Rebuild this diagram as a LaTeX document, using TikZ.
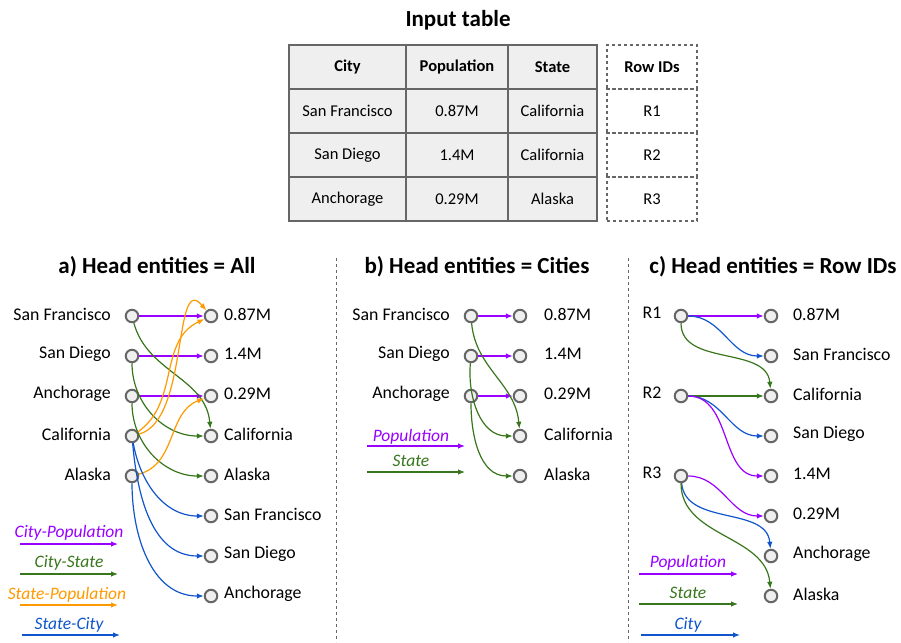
\documentclass[tikz,border=0pt]{standalone}
\usepackage{fontspec}
\setmainfont{Carlito}
\usetikzlibrary{arrows.meta}
\definecolor{pu}{RGB}{153, 0, 255}
\definecolor{gn}{RGB}{56, 118, 29}
\definecolor{og}{RGB}{255, 153, 0}
\definecolor{bl}{RGB}{17, 85, 204}
\definecolor{gr}{RGB}{102, 102, 102}
\definecolor{lg}{RGB}{239, 239, 239}

\begin{document}
\begin{tikzpicture}[x=1pt, y=1pt,
        dot/.style={circle, draw=gr, fill=lg, line width=2pt, minimum size=12.5pt, inner sep=0pt},
        lbl/.style={font=\fontsize{17.8}{20}\selectfont, inner sep=0pt},
        ttl/.style={font=\bfseries\fontsize{23}{26}\selectfont, inner sep=0pt},
        cell/.style={draw=gr, fill=lg, line width=1.2pt, minimum height=44pt, inner sep=0pt, font=\fontsize{16.5}{19}\selectfont},
        idcell/.style={draw=gr, dashed, line width=1.2pt, minimum width=90pt, minimum height=44pt, inner sep=0pt, font=\fontsize{16.5}{19}\selectfont},
        rel/.style={line width=1.2pt, -{Latex[length=7pt, width=5.5pt]}},
        leg/.style={font=\itshape\fontsize{17.5}{20}\selectfont, inner sep=0pt},
        divider/.style={draw=gr, dashed, line width=1pt}]
        \useasboundingbox (0,0) rectangle (901,-642);

        % input table
        \node[ttl] (tin) at (458,-20) {Input table};
        \node[cell, minimum width=117pt, font=\bfseries\fontsize{16.5}{19}\selectfont] (hcity) at (347.5,-67) {City};
        \node[cell, minimum width=102pt, font=\bfseries\fontsize{16.5}{19}\selectfont] (hpop) at (457,-67) {Population};
        \node[cell, minimum width=89pt, font=\bfseries\fontsize{16.5}{19}\selectfont] (hstate) at (552.5,-67) {State};
        \node[cell, minimum width=117pt] (c11) at (347.5,-111) {San Francisco};
        \node[cell, minimum width=102pt] (c12) at (457,-111) {0.87M};
        \node[cell, minimum width=89pt] (c13) at (552.5,-111) {California};
        \node[cell, minimum width=117pt] (c21) at (347.5,-155) {San Diego};
        \node[cell, minimum width=102pt] (c22) at (457,-155) {1.4M};
        \node[cell, minimum width=89pt] (c23) at (552.5,-155) {California};
        \node[cell, minimum width=117pt] (c31) at (347.5,-199) {Anchorage};
        \node[cell, minimum width=102pt] (c32) at (457,-199) {0.29M};
        \node[cell, minimum width=89pt] (c33) at (552.5,-199) {Alaska};
        \node[idcell, font=\bfseries\fontsize{16.5}{19}\selectfont] (hid) at (652,-67) {Row IDs};
        \node[idcell] (id1) at (652,-111) {R1};
        \node[idcell] (id2) at (652,-155) {R2};
        \node[idcell] (id3) at (652,-199) {R3};

        % dividers
        \coordinate (d1t) at (336,-258);
        \coordinate (d1b) at (336,-642);
        \coordinate (d2t) at (628,-258);
        \coordinate (d2b) at (628,-642);
        \draw[divider] (d1t) -- (d1b);
        \draw[divider] (d2t) -- (d2b);

        % a) head entities = all
        \node[ttl] (ta) at (157,-267) {a) Head entities = All};
        \node[dot] (aSF) at (132,-316) {};
        \node[dot] (aSD) at (132,-356) {};
        \node[dot] (aAn) at (132,-396) {};
        \node[dot] (aCa) at (132,-436) {};
        \node[dot] (aAk) at (132,-476) {};
        \node[lbl, anchor=east] (laSF) at (111,-314) {San Francisco};
        \node[lbl, anchor=east] (laSD) at (111,-354) {San Diego};
        \node[lbl, anchor=east] (laAn) at (111,-394) {Anchorage};
        \node[lbl, anchor=east] (laCa) at (111,-434) {California};
        \node[lbl, anchor=east] (laAk) at (111,-474) {Alaska};
        \node[dot] (a87) at (211,-316) {};
        \node[dot] (a14) at (211,-356) {};
        \node[dot] (a29) at (211,-396) {};
        \node[dot] (aCaR) at (211,-436) {};
        \node[dot] (aAkR) at (211,-476) {};
        \node[dot] (aSFR) at (211,-516) {};
        \node[dot] (aSDR) at (211,-556) {};
        \node[dot] (aAnR) at (211,-596) {};
        \node[lbl, anchor=west] (ra87) at (224,-314) {0.87M};
        \node[lbl, anchor=west] (ra14) at (224,-354) {1.4M};
        \node[lbl, anchor=west] (ra29) at (224,-394) {0.29M};
        \node[lbl, anchor=west] (raCa) at (224,-434) {California};
        \node[lbl, anchor=west] (raAk) at (224,-474) {Alaska};
        \node[lbl, anchor=west] (raSF) at (224,-514) {San Francisco};
        \node[lbl, anchor=west] (raSD) at (224,-554) {San Diego};
        \node[lbl, anchor=west] (raAn) at (224,-594) {Anchorage};
        \draw[rel, pu] (aSF) -- (a87);
        \draw[rel, pu] (aSD) -- (a14);
        \draw[rel, pu] (aAn) -- (a29);
        \draw[rel, gn] (aSF) to[out=-75, in=95] (aCaR);
        \draw[rel, gn] (aSD) to[out=-90, in=180] (aCaR);
        \draw[rel, gn] (aAn) to[out=-90, in=180] (aAkR);
        \draw[rel, og] (aCa) to[out=15, in=130, looseness=0.95] (a87);
        \draw[rel, og] (aCa) to[out=35, in=205] (a87);
        \draw[rel, og] (aAk) to[out=15, in=200] (a29);
        \draw[rel, bl] (aCa) to[out=-80, in=180] (aSFR);
        \draw[rel, bl] (aCa) to[out=-85, in=180] (aSDR);
        \draw[rel, bl] (aAk) to[out=-90, in=180] (aAnR);
        % legend a
        \node[leg, pu] (lga1) at (69,-533) {City-Population};
        \node[leg, gn] (lga2) at (69,-563) {City-State};
        \node[leg, og] (lga3) at (67,-595) {State-Population};
        \node[leg, bl] (lga4) at (69,-625) {State-City};
        \coordinate (pa1) at (20,-544);  \coordinate (qa1) at (118,-544);
        \coordinate (pa2) at (20,-574);  \coordinate (qa2) at (118,-574);
        \coordinate (pa3) at (20,-605);  \coordinate (qa3) at (118,-605);
        \coordinate (pa4) at (22,-635);  \coordinate (qa4) at (120,-635);
        \draw[rel, pu] (pa1) -- (qa1);
        \draw[rel, gn] (pa2) -- (qa2);
        \draw[rel, og] (pa3) -- (qa3);
        \draw[rel, bl] (pa4) -- (qa4);

        % b) head entities = cities
        \node[ttl] (tb) at (477,-267) {b) Head entities = Cities};
        \node[dot] (bSF) at (471,-316) {};
        \node[dot] (bSD) at (471,-356) {};
        \node[dot] (bAn) at (471,-396) {};
        \node[lbl, anchor=east] (lbSF) at (450,-314) {San Francisco};
        \node[lbl, anchor=east] (lbSD) at (450,-354) {San Diego};
        \node[lbl, anchor=east] (lbAn) at (450,-394) {Anchorage};
        \node[dot] (b87) at (520,-316) {};
        \node[dot] (b14) at (520,-356) {};
        \node[dot] (b29) at (520,-396) {};
        \node[dot] (bCa) at (520,-436) {};
        \node[dot] (bAk) at (520,-476) {};
        \node[lbl, anchor=west] (rb87) at (544,-314) {0.87M};
        \node[lbl, anchor=west] (rb14) at (544,-354) {1.4M};
        \node[lbl, anchor=west] (rb29) at (544,-394) {0.29M};
        \node[lbl, anchor=west] (rbCa) at (544,-434) {California};
        \node[lbl, anchor=west] (rbAk) at (544,-474) {Alaska};
        \draw[rel, pu] (bSF) -- (b87);
        \draw[rel, pu] (bSD) -- (b14);
        \draw[rel, pu] (bAn) -- (b29);
        \draw[rel, gn] (bSF) to[out=-85, in=95] (bCa);
        \draw[rel, gn] (bSD) to[out=-95, in=180] (bCa);
        \draw[rel, gn] (bAn) to[out=-90, in=180] (bAk);
        % legend b
        \node[leg, pu] (lgb1) at (411,-437) {Population};
        \node[leg, gn] (lgb2) at (411,-461) {State};
        \coordinate (pb1) at (367,-446);  \coordinate (qb1) at (465,-446);
        \coordinate (pb2) at (367,-472);  \coordinate (qb2) at (465,-472);
        \draw[rel, pu] (pb1) -- (qb1);
        \draw[rel, gn] (pb2) -- (qb2);

        % c) head entities = row ids
        \node[ttl] (tc) at (773,-267) {c) Head entities = Row IDs};
        \node[dot] (cR1) at (681,-316) {};
        \node[dot] (cR2) at (681,-396) {};
        \node[dot] (cR3) at (681,-476) {};
        \node[lbl] (lcR1) at (652,-313) {R1};
        \node[lbl] (lcR2) at (652,-393) {R2};
        \node[lbl] (lcR3) at (652,-473) {R3};
        \node[dot] (c87) at (771,-316) {};
        \node[dot] (cSF) at (771,-356) {};
        \node[dot] (cCa) at (771,-396) {};
        \node[dot] (cSD) at (771,-436) {};
        \node[dot] (c14) at (771,-476) {};
        \node[dot] (c29) at (771,-516) {};
        \node[dot] (cAn) at (771,-556) {};
        \node[dot] (cAk) at (771,-596) {};
        \node[lbl, anchor=west] (rc87) at (793,-314) {0.87M};
        \node[lbl, anchor=west] (rcSF) at (793,-354) {San Francisco};
        \node[lbl, anchor=west] (rcCa) at (793,-394) {California};
        \node[lbl, anchor=west] (rcSD) at (793,-434) {San Diego};
        \node[lbl, anchor=west] (rc14) at (793,-474) {1.4M};
        \node[lbl, anchor=west] (rc29) at (793,-514) {0.29M};
        \node[lbl, anchor=west] (rcAn) at (793,-554) {Anchorage};
        \node[lbl, anchor=west] (rcAk) at (793,-594) {Alaska};
        \draw[rel, pu] (cR1) -- (c87);
        \draw[rel, bl] (cR1) to[out=0, in=180] (cSF);
        \draw[rel, gn] (cR1) to[out=-90, in=95] (cCa);
        \draw[rel, gn] (cR2) -- (cCa);
        \draw[rel, bl] (cR2) to[out=0, in=180] (cSD);
        \draw[rel, pu] (cR2) to[out=0, in=180] (c14);
        \draw[rel, pu] (cR3) to[out=0, in=180] (c29);
        \draw[rel, bl] (cR3) to[out=-85, in=95] (cAn);
        \draw[rel, gn] (cR3) to[out=-90, in=95] (cAk);
        % legend c
        \node[leg, pu] (lgc1) at (688,-563) {Population};
        \node[leg, gn] (lgc2) at (688,-593) {State};
        \node[leg, bl] (lgc3) at (688,-625) {City};
        \coordinate (pc1) at (639,-574);  \coordinate (qc1) at (738,-574);
        \coordinate (pc2) at (639,-604);  \coordinate (qc2) at (738,-604);
        \coordinate (pc3) at (641,-635);  \coordinate (qc3) at (740,-635);
        \draw[rel, pu] (pc1) -- (qc1);
        \draw[rel, gn] (pc2) -- (qc2);
        \draw[rel, bl] (pc3) -- (qc3);
    \end{tikzpicture}
\end{document}
